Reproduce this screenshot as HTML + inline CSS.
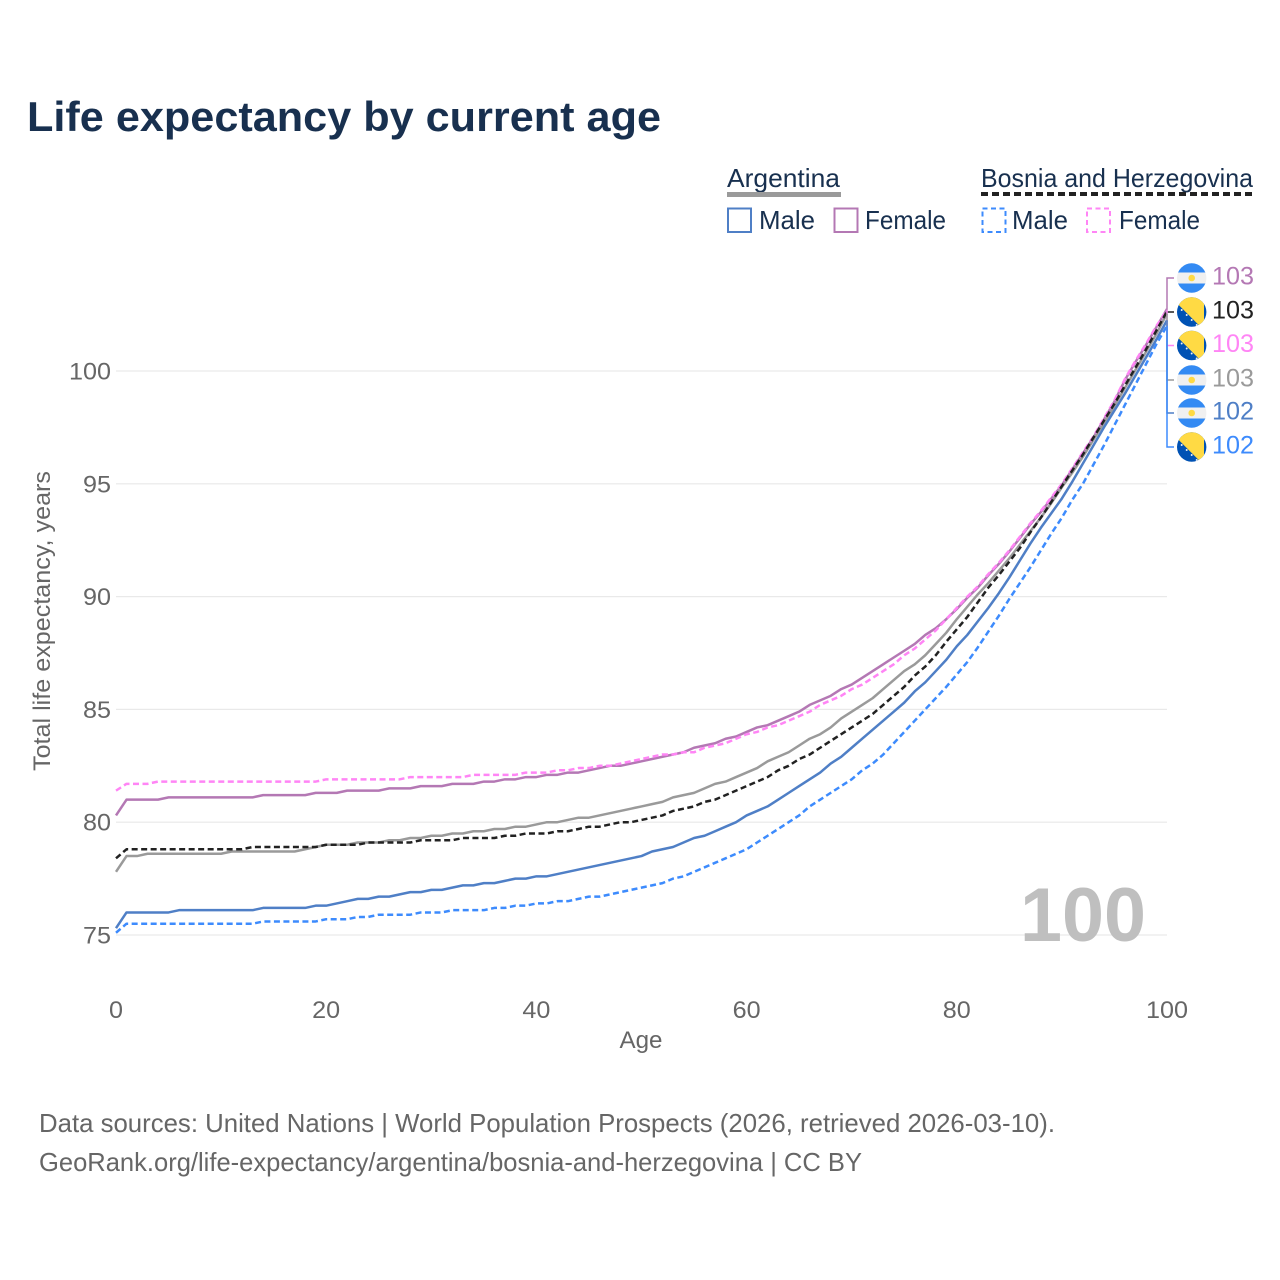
<!DOCTYPE html>
<html lang="en">
<head>
<meta charset="utf-8">
<title>Life expectancy by current age</title>
<style>
html,body{margin:0;padding:0;background:#fff}
svg{display:block}
text{font-family:"Liberation Sans",sans-serif}
</style>
</head>
<body>
<svg id="chart" xmlns="http://www.w3.org/2000/svg" width="1280" height="1280" viewBox="0 0 1280 1280">
  <defs>
    <clipPath id="flag-clip"><circle cx="0" cy="0" r="14.7"></circle></clipPath>
  </defs>
  <rect x="0" y="0" width="1280" height="1280" fill="#fff"></rect>
  <text x="27" y="131" font-size="42" font-weight="700" fill="#18304f" textLength="634" lengthAdjust="spacingAndGlyphs">Life expectancy by current age</text>

  <g font-size="26" fill="#18304f">
    <text x="727" y="187" textLength="113" lengthAdjust="spacingAndGlyphs">Argentina</text>
    <rect x="727" y="192" width="114" height="5" fill="#9a9a9a"></rect>
    <text x="981" y="187" textLength="272" lengthAdjust="spacingAndGlyphs">Bosnia and Herzegovina</text>
    <line x1="981" y1="194" x2="1254" y2="194" stroke="#222" stroke-width="4" stroke-dasharray="7 4"></line>
    <rect x="728" y="208.500" width="23" height="23.500" fill="none" stroke="#4f7fc6" stroke-width="2"></rect>
    <text x="759" y="229" textLength="56" lengthAdjust="spacingAndGlyphs">Male</text>
    <rect x="834.500" y="208.500" width="23" height="23.500" fill="none" stroke="#b478b4" stroke-width="2"></rect>
    <text x="865" y="229" textLength="81" lengthAdjust="spacingAndGlyphs">Female</text>
    <rect x="982.500" y="208.500" width="23" height="23.500" fill="none" stroke="#3d8bfd" stroke-width="2" stroke-dasharray="5 3.500"></rect>
    <text x="1012" y="229" textLength="56" lengthAdjust="spacingAndGlyphs">Male</text>
    <rect x="1087" y="208.500" width="23" height="23.500" fill="none" stroke="#ff85f5" stroke-width="2" stroke-dasharray="5 3.500"></rect>
    <text x="1119" y="229" textLength="81" lengthAdjust="spacingAndGlyphs">Female</text>
  </g>

  <g id="grid"></g>
  <g id="yticks" font-size="24" fill="#666"></g>
  <g id="xticks" font-size="24" fill="#666"></g>

  <text transform="translate(50,621) rotate(-90)" text-anchor="middle" font-size="24" fill="#666" textLength="300" lengthAdjust="spacingAndGlyphs">Total life expectancy, years</text>
  <text x="641" y="1048" text-anchor="middle" font-size="24" fill="#666" textLength="43" lengthAdjust="spacingAndGlyphs">Age</text>

  <text id="age-watermark" x="1146" y="941" text-anchor="end" font-size="76" font-weight="700" fill="#bfbfbf" textLength="126" lengthAdjust="spacingAndGlyphs"></text>

  <g id="series"></g>
  <g id="labels"></g>

  <text x="39" y="1132" font-size="26" fill="#666" textLength="1016" lengthAdjust="spacingAndGlyphs">Data sources: United Nations | World Population Prospects (2026, retrieved 2026-03-10).</text>
  <text x="39" y="1171" font-size="26" fill="#666" textLength="823" lengthAdjust="spacingAndGlyphs">GeoRank.org/life-expectancy/argentina/bosnia-and-herzegovina | CC BY</text>
</svg>

<script>
const ages = [0,1,2,3,4,5,6,7,8,9,10,11,12,13,14,15,16,17,18,19,20,21,22,23,24,25,26,27,28,29,30,31,32,33,34,35,36,37,38,39,40,41,42,43,44,45,46,47,48,49,50,51,52,53,54,55,56,57,58,59,60,61,62,63,64,65,66,67,68,69,70,71,72,73,74,75,76,77,78,79,80,81,82,83,84,85,86,87,88,89,90,91,92,93,94,95,96,97,98,99,100];
const xTickValues = [0,20,40,60,80,100];
const yTickValues = [75,80,85,90,95,100];

const argentinaFemale = [
80.3,81.0,81.0,81.0,81.0,81.1,81.1,81.1,81.1,81.1,
81.1,81.1,81.1,81.1,81.2,81.2,81.2,81.2,81.2,81.3,
81.3,81.3,81.4,81.4,81.4,81.4,81.5,81.5,81.5,81.6,
81.6,81.6,81.7,81.7,81.7,81.8,81.8,81.9,81.9,82.0,
82.0,82.1,82.1,82.2,82.2,82.3,82.4,82.5,82.5,82.6,
82.7,82.8,82.9,83.0,83.1,83.3,83.4,83.5,83.7,83.8,
84.0,84.2,84.3,84.5,84.7,84.9,85.2,85.4,85.6,85.9,
86.1,86.4,86.7,87.0,87.3,87.6,87.9,88.3,88.6,89.0,
89.45,89.95,90.4,90.95,91.45,92.0,92.6,93.2,93.75,94.35,
94.95,95.65,96.35,97.05,97.85,98.65,99.6,100.4,101.15,101.95,102.75];

const bosniaFemale = [
81.4,81.7,81.7,81.7,81.8,81.8,81.8,81.8,81.8,81.8,
81.8,81.8,81.8,81.8,81.8,81.8,81.8,81.8,81.8,81.8,
81.9,81.9,81.9,81.9,81.9,81.9,81.9,81.9,82.0,82.0,
82.0,82.0,82.0,82.0,82.1,82.1,82.1,82.1,82.1,82.2,
82.2,82.2,82.3,82.3,82.4,82.4,82.5,82.5,82.6,82.7,
82.8,82.9,83.0,83.0,83.1,83.1,83.3,83.4,83.5,83.7,
83.9,84.0,84.2,84.3,84.5,84.7,84.9,85.2,85.4,85.6,
85.9,86.1,86.4,86.7,87.0,87.4,87.7,88.1,88.5,89.0,
89.5,90.0,90.45,91.0,91.5,92.05,92.65,93.25,93.8,94.4,
95.0,95.7,96.4,97.1,97.9,98.7,99.65,100.45,101.2,102.0,102.7];

const argentinaTotal = [
77.8,78.5,78.5,78.6,78.6,78.6,78.6,78.6,78.6,78.6,
78.6,78.7,78.7,78.7,78.7,78.7,78.7,78.7,78.8,78.9,
79.0,79.0,79.0,79.1,79.1,79.1,79.2,79.2,79.3,79.3,
79.4,79.4,79.5,79.5,79.6,79.6,79.7,79.7,79.8,79.8,
79.9,80.0,80.0,80.1,80.2,80.2,80.3,80.4,80.5,80.6,
80.7,80.8,80.9,81.1,81.2,81.3,81.5,81.7,81.8,82.0,
82.2,82.4,82.7,82.9,83.1,83.4,83.7,83.9,84.2,84.6,
84.9,85.2,85.5,85.9,86.3,86.7,87.0,87.4,87.9,88.4,
89.0,89.55,90.1,90.6,91.15,91.7,92.3,92.9,93.5,94.15,
94.85,95.5,96.2,96.95,97.7,98.45,99.25,100.05,100.85,101.65,102.55];

const bosniaTotal = [
78.4,78.8,78.8,78.8,78.8,78.8,78.8,78.8,78.8,78.8,
78.8,78.8,78.8,78.9,78.9,78.9,78.9,78.9,78.9,78.9,
79.0,79.0,79.0,79.0,79.1,79.1,79.1,79.1,79.1,79.2,
79.2,79.2,79.2,79.3,79.3,79.3,79.3,79.4,79.4,79.5,
79.5,79.5,79.6,79.6,79.7,79.8,79.8,79.9,80.0,80.0,
80.1,80.2,80.3,80.5,80.6,80.7,80.9,81.0,81.2,81.4,
81.6,81.8,82.0,82.3,82.5,82.8,83.0,83.3,83.6,83.9,
84.2,84.5,84.8,85.2,85.6,86.0,86.5,86.9,87.4,88.0,
88.55,89.1,89.75,90.4,90.95,91.55,92.15,92.85,93.5,94.2,
94.9,95.6,96.3,97.05,97.8,98.55,99.35,100.15,100.95,101.8,102.65];

const argentinaMale = [
75.3,76.0,76.0,76.0,76.0,76.0,76.1,76.1,76.1,76.1,
76.1,76.1,76.1,76.1,76.2,76.2,76.2,76.2,76.2,76.3,
76.3,76.4,76.5,76.6,76.6,76.7,76.7,76.8,76.9,76.9,
77.0,77.0,77.1,77.2,77.2,77.3,77.3,77.4,77.5,77.5,
77.6,77.6,77.7,77.8,77.9,78.0,78.1,78.2,78.3,78.4,
78.5,78.7,78.8,78.9,79.1,79.3,79.4,79.6,79.8,80.0,
80.3,80.5,80.7,81.0,81.3,81.6,81.9,82.2,82.6,82.9,
83.3,83.7,84.1,84.5,84.9,85.3,85.8,86.2,86.7,87.2,
87.8,88.3,88.9,89.5,90.15,90.85,91.6,92.35,93.05,93.7,
94.35,95.1,95.9,96.7,97.5,98.25,99.0,99.8,100.6,101.4,102.25];

const bosniaMale = [
75.1,75.5,75.5,75.5,75.5,75.5,75.5,75.5,75.5,75.5,
75.5,75.5,75.5,75.5,75.6,75.6,75.6,75.6,75.6,75.6,
75.7,75.7,75.7,75.8,75.8,75.9,75.9,75.9,75.9,76.0,
76.0,76.0,76.1,76.1,76.1,76.1,76.2,76.2,76.3,76.3,
76.4,76.4,76.5,76.5,76.6,76.7,76.7,76.8,76.9,77.0,
77.1,77.2,77.3,77.5,77.6,77.8,78.0,78.2,78.4,78.6,
78.8,79.1,79.4,79.7,80.0,80.3,80.7,81.0,81.3,81.6,
81.9,82.3,82.6,83.0,83.5,84.0,84.5,85.0,85.5,86.0,
86.55,87.1,87.75,88.45,89.15,89.9,90.6,91.3,92.05,92.8,
93.5,94.3,95.0,95.85,96.7,97.6,98.5,99.4,100.3,101.2,102.0];

const NS = 'http://www.w3.org/2000/svg';
const x = age => 116 + age * 10.51;
const y = value => 935 - (value - 75) * 22.56;

function mk(tag, attrs, parent) {
  const el = document.createElementNS(NS, tag);
  for (const k in attrs) el.setAttribute(k, attrs[k]);
  parent.appendChild(el);
  return el;
}

const grid = document.getElementById('grid');
const yticks = document.getElementById('yticks');
const xticks = document.getElementById('xticks');

yTickValues.forEach(v => {
  const g = mk('line', {x1: 116, x2: 1167, y1: y(v), y2: y(v), stroke: '#e9e9e9', 'stroke-width': 1.2}, grid);
  
  
  const t = mk('text', {x: 111, y: y(v) + 8.500, 'text-anchor': 'end', textLength: String(v).length * 14, lengthAdjust: 'spacingAndGlyphs'}, yticks);
  
  
  t.textContent = v;
});

xTickValues.forEach(v => {
  const t = mk('text', {x: x(v), y: 1018, 'text-anchor': 'middle', textLength: String(v).length * 14, lengthAdjust: 'spacingAndGlyphs'}, xticks);
  
  
  t.textContent = v;
});

document.getElementById('age-watermark').textContent = ages[ages.length - 1];

const seriesGroup = document.getElementById('series');
function drawLine(values, color, dash, name) {
  const d = values.map((v, i) => (i ? 'L' : 'M') + x(ages[i]).toFixed(2) + ' ' + y(v).toFixed(2)).join('');
  const p = mk('path', {d: d, fill: 'none', stroke: color, 'stroke-width': 2.500, 'stroke-linejoin': 'round', 'stroke-dasharray': dash}, seriesGroup);
  
  
}
drawLine(argentinaFemale, '#b478b4', 'none', 'line-argentina-female');
drawLine(argentinaTotal, '#9a9a9a', 'none', 'line-argentina-total');
drawLine(argentinaMale, '#4f7fc6', 'none', 'line-argentina-male');
drawLine(bosniaMale, '#3d8bfd', '6 3.500', 'line-bosnia-male');
drawLine(bosniaFemale, '#ff85f5', '6 3.500', 'line-bosnia-female');
drawLine(bosniaTotal, '#222222', '6 3.500', 'line-bosnia-total');

const labelsGroup = document.getElementById('labels');

function flagArgentina(parent) {
  const g = mk('g', {'clip-path': 'url(#flag-clip)'}, parent);
  mk('rect', {x: -15, y: -15, width: 30, height: 30, fill: '#f0f0f0'}, g);
  mk('rect', {x: -15, y: -15, width: 30, height: 9.500, fill: '#338af3'}, g);
  mk('rect', {x: -15, y: 5.500, width: 30, height: 9.500, fill: '#338af3'}, g);
  mk('circle', {cx: 0, cy: 0, r: 3.300, fill: '#ffda44'}, g);
}
function flagBosnia(parent) {
  const g = mk('g', {'clip-path': 'url(#flag-clip)'}, parent);
  mk('rect', {x: -15, y: -15, width: 30, height: 30, fill: '#0052b4'}, g);
  mk('polygon', {points: '-15,-15 12.300,-15 12.300,18.300 -15,-9', fill: '#ffda44'}, g);
  [[-10, -2], [-5, 3], [0, 8], [5, 13]].forEach(s => {
    mk('circle', {cx: s[0], cy: s[1], r: 1, fill: '#f0f0f0'}, g);
  });
}

function drawLabel(values, labelY, color, country, name) {
  const lastY = y(values[values.length - 1]);
  const c = mk('path', {d: 'M1167 ' + lastY.toFixed(1) + 'L1167 ' + labelY + 'L1174 ' + labelY, fill: 'none', stroke: color, 'stroke-width': 1.500}, labelsGroup);
  
  
  const f = mk('g', {transform: 'translate(1191.700,' + labelY + ')'}, labelsGroup);
  
  
  if (country === 'ar') flagArgentina(f); else flagBosnia(f);
  const t = mk('text', {x: 1212, y: labelY + 6.500, 'font-size': 25, fill: color, textLength: 42, lengthAdjust: 'spacingAndGlyphs'}, labelsGroup);
  
  
  t.textContent = Math.round(values[values.length - 1]);
}
drawLabel(argentinaFemale, 278, '#b478b4', 'ar', 'end-label-argentina-female');
drawLabel(bosniaTotal, 312, '#222222', 'ba', 'end-label-bosnia-total');
drawLabel(bosniaFemale, 345.500, '#ff85f5', 'ba', 'end-label-bosnia-female');
drawLabel(argentinaTotal, 380, '#9a9a9a', 'ar', 'end-label-argentina-total');
drawLabel(argentinaMale, 413, '#4f7fc6', 'ar', 'end-label-argentina-male');
drawLabel(bosniaMale, 447, '#3d8bfd', 'ba', 'end-label-bosnia-male');
</script>
</body>
</html>
